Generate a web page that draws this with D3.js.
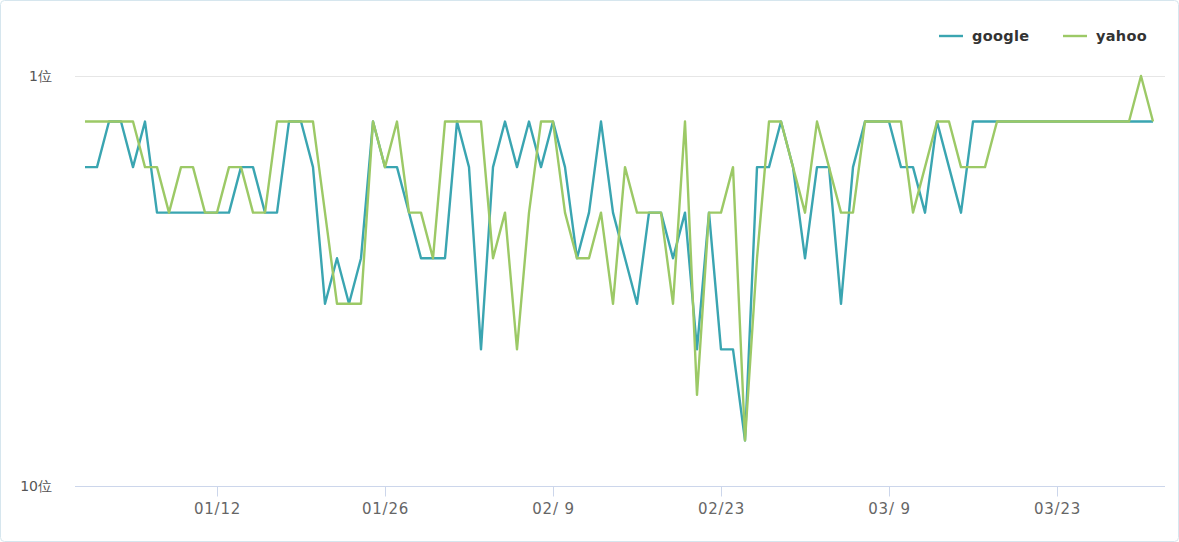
<!DOCTYPE html>
<html>
<head>
<meta charset="utf-8">
<script src="https://cdn.jsdelivr.net/npm/d3@7"></script>
<style>
body { margin: 0; background: #fff; }
svg text { font-family: "DejaVu Sans", sans-serif; }
</style>
</head>
<body>
<div id="chart"></div>
<script>
// daily rank, 01/01 .. 03/31
var google = [3,3,2,2,3,2,4,4,4,4,4,4,4,3,3,
              4,4,2,2,3,6,5,6,5,2,3,3,4,5,5,
              5,2,3,7,3,2,3,2,3,2,3,5,4,2,4,
              5,6,4,4,5,4,7,4,7,7,9,3,3,2,3,
              5,3,3,6,3,2,2,2,3,3,4,2,3,4,2,
              2,2,2,2,2,2,2,2,2,2,2,2,2,2,2];
var yahoo  = [2,2,2,2,2,3,3,4,3,3,4,4,3,3,4,
              4,2,2,2,2,4,6,6,6,2,3,2,4,4,5,
              2,2,2,2,5,4,7,4,2,2,4,5,5,4,6,
              3,4,4,4,6,2,8,4,4,3,9,5,2,2,3,
              4,2,3,4,4,2,2,2,2,4,3,2,2,3,3,
              3,2,2,2,2,2,2,2,2,2,2,2,2,1,2];
var seriesNames = ["google", "yahoo"];
var palette = ["#3aa5b1", "#9cc966"];
var firstDay = "2025-01-01", lastDay = "2025-03-31";
var tickDays = ["2025-01-12", "2025-01-26", "2025-02-09", "2025-02-23", "2025-03-09", "2025-03-23"];
var rankTicks = [1, 10];

var W = 1179, H = 542;
var plot = {left: 75, right: 1165, top: 76, bottom: 486};

var parse = d3.timeParse("%Y-%m-%d");
var days = d3.timeDay.range(parse(firstDay), d3.timeDay.offset(parse(lastDay), 1));
var fmt = d3.timeFormat("%m/%e");

var svg = d3.select("#chart").append("svg")
    .attr("width", W).attr("height", H);

// outer frame
svg.append("rect")
    .attr("x", 0.5).attr("y", 0.5)
    .attr("width", W - 1).attr("height", H - 1)
    .attr("rx", 4)
    .attr("fill", "#fff")
    .attr("stroke", "#d6e6ee");

var x = d3.scaleTime()
    .domain([days[0], days[days.length - 1]])
    .range([85, 1153]);

var y = d3.scaleLinear()
    .domain([1, 10])
    .range([plot.top, plot.bottom]);

// grid line at rank 1
svg.append("line")
    .attr("x1", plot.left).attr("x2", plot.right)
    .attr("y1", y(1) + 0.5).attr("y2", y(1) + 0.5)
    .attr("stroke", "#e6e6e6");

// y labels
svg.append("g").selectAll("text")
    .data(rankTicks)
  .enter().append("text")
    .attr("x", 52)
    .attr("y", function(d) { return y(d); })
    .attr("dy", "0.35em")
    .attr("text-anchor", "end")
    .attr("fill", "#555")
    .style("font-size", "14px")
    .text(function(d) { return d + "位"; });

// x axis
var xAxis = d3.axisBottom(x)
    .tickValues(tickDays.map(parse))
    .tickFormat(fmt)
    .tickSize(10)
    .tickSizeOuter(0);

var gX = svg.append("g")
    .attr("transform", "translate(0," + (plot.bottom + 0.5) + ")")
    .call(xAxis);
gX.select(".domain").remove();
gX.selectAll(".tick line").attr("stroke", "#ccd6eb");
gX.selectAll(".tick text")
    .attr("y", 17)
    .attr("fill", "#666")
    .style("font-size", "15px")
    .style("letter-spacing", "0.8px")
    .style("white-space", "pre")
    .style("font-family", "\"DejaVu Sans\", sans-serif");
gX.append("line")
    .attr("x1", plot.left).attr("x2", plot.right)
    .attr("y1", 0).attr("y2", 0)
    .attr("stroke", "#ccd6eb");

// lines
var line = d3.line()
    .x(function(d, i) { return x(days[i]); })
    .y(function(d) { return y(d); });

[google, yahoo].forEach(function(s, k) {
    svg.append("path")
        .datum(s)
        .attr("d", line)
        .attr("fill", "none")
        .attr("stroke", palette[k])
        .attr("stroke-width", 2.4)
        .attr("stroke-linejoin", "round");
});

// legend
var legendX = [939, 1063];
var legend = svg.append("g").selectAll("g")
    .data(seriesNames)
  .enter().append("g")
    .attr("transform", function(d, i) { return "translate(" + legendX[i] + ",36)"; });
legend.append("line")
    .attr("x1", 0).attr("x2", 24)
    .attr("stroke", function(d, i) { return palette[i]; })
    .attr("stroke-width", 2.4);
legend.append("text")
    .attr("x", 33)
    .attr("dy", "0.35em")
    .attr("fill", "#333")
    .style("font-size", "14.5px")
    .style("font-weight", "bold")
    .style("letter-spacing", "0.3px")
    .text(function(d) { return d; });
</script>
</body>
</html>
